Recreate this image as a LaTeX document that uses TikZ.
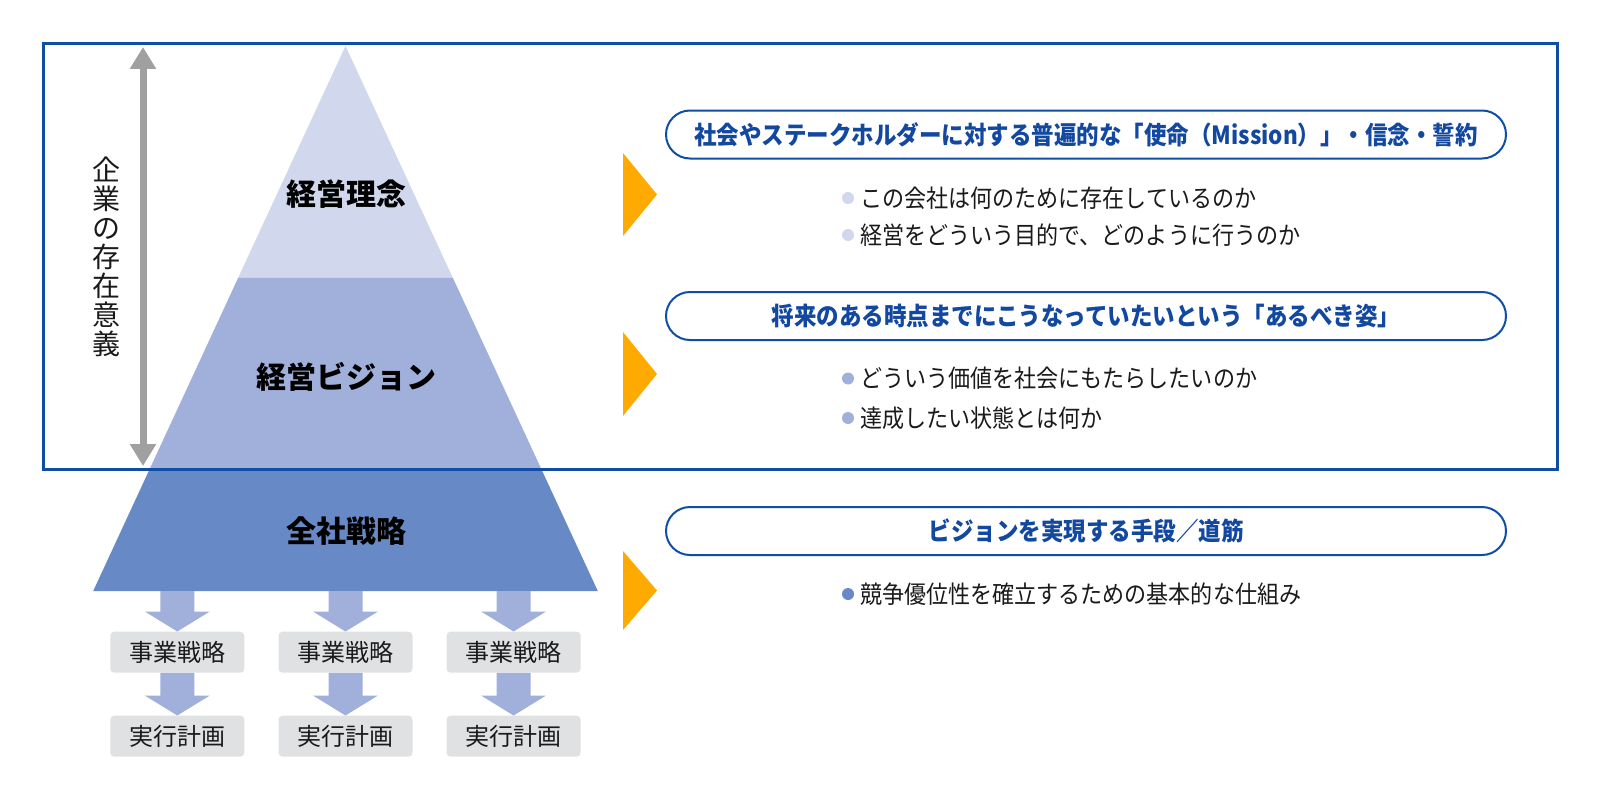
\documentclass[tikz,border=0pt]{standalone}
\usepackage{fontspec}
\setmainfont{Noto Sans CJK JP}
\newfontfamily\fwnarrow{Noto Sans CJK JP}[FakeStretch=0.9]
\usetikzlibrary{arrows.meta,calc}
\definecolor{fwframe}{RGB}{16,78,166}
\definecolor{fwtitle}{RGB}{18,72,160}
\definecolor{fwlight}{RGB}{209,216,237}
\definecolor{fwmid}{RGB}{161,176,219}
\definecolor{fwdark}{RGB}{103,137,198}
\definecolor{fwgray}{RGB}{160,160,160}
\definecolor{fwbox}{RGB}{223,225,226}
\definecolor{fworange}{RGB}{255,170,0}
\definecolor{fwink}{RGB}{26,26,26}
\tikzset{
  lvl/.style={font=\fontsize{30}{33}\selectfont\bfseries, text=black, inner sep=0pt},
  sub/.style={
    fill=fwbox, rounded corners=4pt, minimum width=134pt, minimum height=41pt,
    inner sep=0pt, font=\fontsize{24}{27}\selectfont, text=fwink
  },
  head/.style={
    draw=fwframe, line width=2pt, rounded corners=24pt, minimum width=840pt,
    minimum height=48pt, inner sep=0pt, text=fwtitle,
    font=\fwnarrow\fontsize{25}{28}\selectfont\bfseries
  },
  item/.style={anchor=west, inner sep=0pt, text=fwink,
    font=\fwnarrow\fontsize{24.5}{28}\selectfont},
  dot/.style={circle, inner sep=0pt, minimum size=12pt},
  blk/.style={fill=fwmid},
  ptr/.style={fill=fworange},
  span/.style={draw=fwgray, line width=7pt,
    {Triangle[length=22pt,width=25pt]}-{Triangle[length=22pt,width=25pt]}}
}
% block arrow pointing down, from #1 to #2
\newcommand{\fwdown}[2]{%
  \fill[blk] let \p1=(#1), \p2=(#2) in
    (\x1-17pt,\y1) -- (\x1+17pt,\y1) -- (\x1+17pt,\y2+20pt) -- (\x1+32.5pt,\y2+20pt)
    -- (\x1,\y2) -- (\x1-32.5pt,\y2+20pt) -- (\x1-17pt,\y2+20pt) -- cycle;}

\begin{document}
\begin{tikzpicture}[x=1pt,y=-1pt]
  \useasboundingbox[fill=white] (0,0) rectangle (1600,800);

  % pyramid
  \fill[fwlight] (345.5,46) -- (452.7,277.5) -- (238.3,277.5) -- cycle;
  \fill[fwmid] (238.3,277.5) -- (452.7,277.5) -- (541.3,469) -- (149.7,469) -- cycle;
  \fill[fwdark] (149.7,469) -- (541.3,469) -- (597.8,591) -- (93.2,591) -- cycle;

  \node[lvl] (rinen) at (346,194) {経営理念};
  \node[lvl] (vision) at (346,377) {経営ビジョン};
  \node[lvl] (senryaku) at (346,531) {全社戦略};

  % span of the purpose
  \coordinate (spantop) at (143,47);
  \coordinate (spanbot) at (143,466);
  \draw[span] (spantop) -- (spanbot);
  \node[align=center, inner sep=0pt, text=fwink, font=\fontsize{28}{29}\selectfont]
    (sonzai) at (106,257) {企\\業\\の\\存\\在\\意\\義};

  % frame
  \draw[fwframe, line width=3pt] (43,44) rectangle (1557,469);

  % business strategies
  \node[sub] (jigyo1) at (177.3,652.2) {事業戦略};
  \node[sub] (jigyo2) at (345.5,652.2) {事業戦略};
  \node[sub] (jigyo3) at (513.6,652.2) {事業戦略};
  \node[sub] (keikaku1) at (177.3,736.2) {実行計画};
  \node[sub] (keikaku2) at (345.5,736.2) {実行計画};
  \node[sub] (keikaku3) at (513.6,736.2) {実行計画};
  \coordinate (base1) at (177.3,591);
  \coordinate (base2) at (345.5,591);
  \coordinate (base3) at (513.6,591);
  \fwdown{base1}{jigyo1.north}
  \fwdown{base2}{jigyo2.north}
  \fwdown{base3}{jigyo3.north}
  \fwdown{jigyo1.south}{keikaku1.north}
  \fwdown{jigyo2.south}{keikaku2.north}
  \fwdown{jigyo3.south}{keikaku3.north}

  % pointers
  \fill[ptr] (623,153) -- (657,194.5) -- (623,236) -- cycle;
  \fill[ptr] (623,332) -- (657,374) -- (623,416) -- cycle;
  \fill[ptr] (623,551) -- (657,590.5) -- (623,630) -- cycle;

  % explanations
  \node[head] (mission) at (1086,134.5) {社会やステークホルダーに対する普遍的な「使命（Mission）」・信念・誓約};
  \node[dot, fill=fwlight] (m1) at (848,198) {};
  \node[item] (mt1) at (860,198) {この会社は何のために存在しているのか};
  \node[dot, fill=fwlight] (m2) at (848,235) {};
  \node[item] (mt2) at (860,235) {経営をどういう目的で、どのように行うのか};

  \node[head] (sugata) at (1086,316) {将来のある時点までにこうなっていたいという「あるべき姿」};
  \node[dot, fill=fwmid] (v1) at (848,378.5) {};
  \node[item] (vt1) at (860,378.5) {どういう価値を社会にもたらしたいのか};
  \node[dot, fill=fwmid] (v2) at (848,418) {};
  \node[item] (vt2) at (860,418) {達成したい状態とは何か};

  \node[head] (michi) at (1086,531) {ビジョンを実現する手段／道筋};
  \node[dot, fill=fwdark] (s1) at (848,594) {};
  \node[item] (st1) at (860,594) {競争優位性を確立するための基本的な仕組み};
\end{tikzpicture}
\end{document}
